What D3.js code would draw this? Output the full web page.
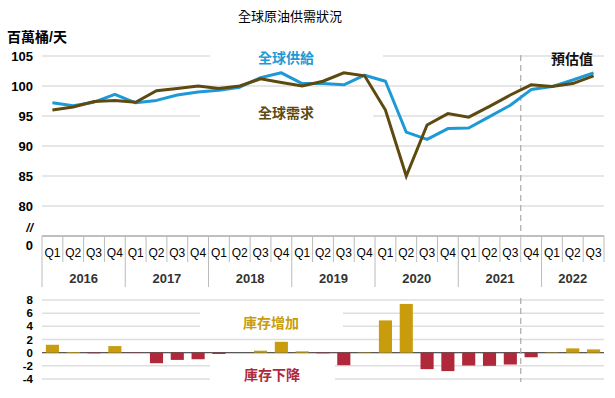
<!DOCTYPE html>
<html>
<head>
<meta charset="utf-8">
<script src="https://cdn.jsdelivr.net/npm/d3@7"></script>
<style>
  body { margin: 0; background: #fff; }
  text { font-family: "Liberation Sans", Arial, "Noto Sans CJK TC", sans-serif; }
</style>
</head>
<body>
<div id="app"></div>
<script>
// quarters 2016 Q1 .. 2022 Q3
const quarters = ["Q1","Q2","Q3","Q4","Q1","Q2","Q3","Q4","Q1","Q2","Q3","Q4","Q1","Q2","Q3","Q4",
                  "Q1","Q2","Q3","Q4","Q1","Q2","Q3","Q4","Q1","Q2","Q3"];
const years = ["2016","2017","2018","2019","2020","2021","2022"];

// million barrels / day
const supply = [97.2, 96.7, 97.3, 98.6, 97.2, 97.6, 98.5, 99.0, 99.3, 99.8, 101.4, 102.2, 100.4, 100.4,
                100.2, 101.8, 100.8, 92.3, 91.1, 92.9, 93.0, 94.9, 96.8, 99.4, 99.9, 101.0, 102.2];
const demand = [96.0, 96.5, 97.4, 97.6, 97.3, 99.2, 99.6, 100.0, 99.6, 100.0, 101.2, 100.6, 100.0, 100.8,
                102.2, 101.7, 96.0, 85.0, 93.5, 95.4, 94.8, 96.6, 98.5, 100.2, 99.9, 100.4, 101.7];
// inventory change
const stock = [1.2, 0.1, -0.1, 1.0, -0.05, -1.6, -1.1, -1.0, -0.2, 0.0, 0.3, 1.65, 0.2, -0.1,
               -1.9, 0.05, 4.9, 7.4, -2.5, -2.8, -1.95, -2.0, -1.8, -0.7, 0.05, 0.65, 0.5];

const topTicks = [80, 85, 90, 95, 100, 105];
const botTicks = [-4, -2, 0, 2, 4, 6, 8];

const width = 615, height = 398;
const left = 42, right = 604;
const blue = "#1d9ad6", olive = "#5e4a10", gold = "#c89c0c", red = "#b0293b", grid = "#dedede";

const svg = d3.select("#app").append("svg")
    .attr("width", width)
    .attr("height", height);

const x = d3.scaleBand()
    .domain(d3.range(quarters.length))
    .range([left, right]);
const cx = i => x(i) + x.bandwidth() / 2;

const yTop = d3.scaleLinear().domain([75, 105]).range([236, 56]);
const yBot = d3.scaleLinear().domain([-4, 8]).range([379, 300]);

// title + unit
svg.append("text")
    .attr("x", 290).attr("y", 21)
    .attr("text-anchor", "middle")
    .attr("font-size", 13)
    .text("全球原油供需狀況");

svg.append("text")
    .attr("x", 7).attr("y", 42)
    .attr("font-size", 14).attr("font-weight", "bold")
    .text("百萬桶/天");

// top gridlines
svg.append("g")
  .selectAll("line")
    .data(topTicks)
  .enter().append("line")
    .attr("x1", left).attr("x2", right)
    .attr("y1", d => yTop(d)).attr("y2", d => yTop(d))
    .attr("stroke", grid).attr("stroke-width", 1.5);

svg.append("g")
    .attr("font-size", 13).attr("font-weight", "bold")
    .attr("text-anchor", "end")
  .selectAll("text")
    .data(topTicks)
  .enter().append("text")
    .attr("x", 33).attr("y", d => yTop(d))
    .attr("dy", "0.35em")
    .text(d => d);

svg.append("text").attr("x", 33).attr("y", 232).attr("text-anchor", "end")
    .attr("font-size", 12).attr("font-weight", "bold").attr("font-style", "italic").text("//");
svg.append("text").attr("x", 33).attr("y", 250).attr("text-anchor", "end")
    .attr("font-size", 13).attr("font-weight", "bold").text("0");

// bottom gridlines
svg.append("g")
  .selectAll("line")
    .data(botTicks)
  .enter().append("line")
    .attr("x1", left).attr("x2", right)
    .attr("y1", d => yBot(d)).attr("y2", d => yBot(d))
    .attr("stroke", d => d === 0 ? "#555" : grid)
    .attr("stroke-width", d => d === 0 ? 1 : 1.5);

svg.append("g")
    .attr("font-size", 11.5).attr("font-weight", "bold")
    .attr("text-anchor", "end")
  .selectAll("text")
    .data(botTicks)
  .enter().append("text")
    .attr("x", 33).attr("y", d => yBot(d))
    .attr("dy", "0.36em")
    .text(d => d);

// gaps in the gridlines behind the labels
const masks = [[210, 383, 50, 62], [200, 373, 108, 122], [200, 343, 308, 331], [210, 335, 360, 385]];
svg.append("g")
  .selectAll("rect")
    .data(masks)
  .enter().append("rect")
    .attr("x", d => d[0]).attr("width", d => d[1] - d[0])
    .attr("y", d => d[2]).attr("height", d => d[3] - d[2])
    .attr("fill", "#fff");
// redraw zero line over mask
svg.append("line")
    .attr("x1", left).attr("x2", right)
    .attr("y1", yBot(0)).attr("y2", yBot(0))
    .attr("stroke", "#555").attr("stroke-width", 1);

// forecast divider
const fx = x(23);
[[55, 236], [298, 382]].forEach(([a, b]) => {
  svg.append("line")
      .attr("x1", fx).attr("x2", fx).attr("y1", a).attr("y2", b)
      .attr("stroke", "#aaa").attr("stroke-width", 1.2)
      .attr("stroke-dasharray", "6,4");
});

// x axis
const axis = svg.append("g");
axis.append("line")
    .attr("x1", left).attr("x2", right).attr("y1", 236).attr("y2", 236)
    .attr("stroke", "#aaa").attr("stroke-width", 1.5);
axis.selectAll(".sep")
    .data(d3.range(quarters.length + 1))
  .enter().append("line")
    .attr("x1", i => i < quarters.length ? x(i) : right)
    .attr("x2", i => i < quarters.length ? x(i) : right)
    .attr("y1", 236)
    .attr("y2", i => (i % 4 === 0) ? 287 : 262)
    .attr("stroke", "#bbb").attr("stroke-width", 1);
axis.selectAll(".q")
    .data(quarters)
  .enter().append("text")
    .attr("x", (d, i) => cx(i)).attr("y", 257)
    .attr("text-anchor", "middle")
    .attr("font-size", 12)
    .text(d => d);
axis.selectAll(".yr")
    .data(years)
  .enter().append("text")
    .attr("x", (d, i) => {
      const a = x(i * 4), b = i * 4 + 4 <= quarters.length ? x(i * 4 + 3) + x.bandwidth() : right;
      return (a + b) / 2;
    })
    .attr("y", 283)
    .attr("text-anchor", "middle")
    .attr("font-size", 13).attr("font-weight", "bold").attr("fill", "#333")
    .text(d => d);

// lines
const line = vals => d3.line()
    .x((d, i) => cx(i))
    .y(d => yTop(d))(vals);

svg.append("path")
    .attr("d", line(supply))
    .attr("fill", "none").attr("stroke", blue).attr("stroke-width", 3)
    .attr("stroke-linejoin", "round");
svg.append("path")
    .attr("d", line(demand))
    .attr("fill", "none").attr("stroke", olive).attr("stroke-width", 3)
    .attr("stroke-linejoin", "miter");

// bars
const bw = x.bandwidth() * 0.63;
svg.append("g")
  .selectAll("rect")
    .data(stock)
  .enter().append("rect")
    .attr("x", (d, i) => cx(i) - bw / 2)
    .attr("width", bw)
    .attr("y", d => yBot(Math.max(0, d)))
    .attr("height", d => Math.abs(yBot(d) - yBot(0)))
    .attr("fill", d => d >= 0 ? gold : red);

// labels
const label = (t, xx, yy, c) => svg.append("text")
    .attr("x", xx).attr("y", yy)
    .attr("text-anchor", "middle")
    .attr("font-size", 14).attr("font-weight", "bold")
    .attr("fill", c)
    .text(t);
label("全球供給", 286, 63, blue);
label("全球需求", 286, 118, olive);
label("預估值", 572, 64, "#111");
label("庫存增加", 271, 328, gold);
label("庫存下降", 272, 380, red);
</script>
</body>
</html>
